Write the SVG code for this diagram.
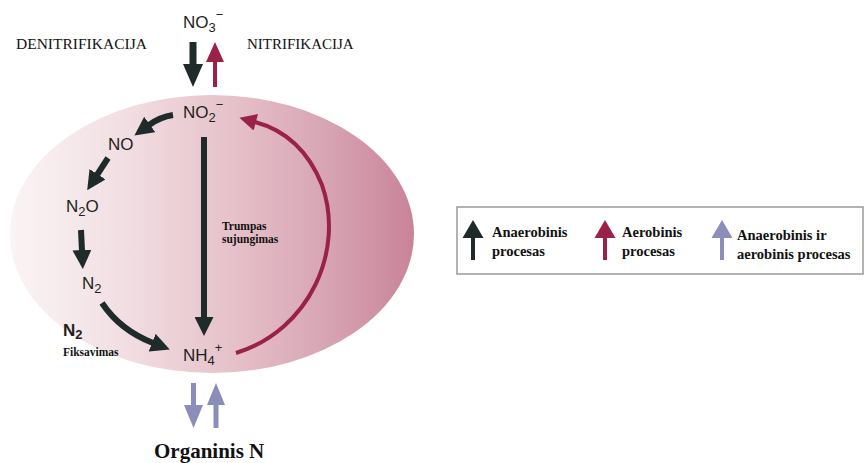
<svg xmlns="http://www.w3.org/2000/svg" width="865" height="463" viewBox="0 0 865 463">
<style>
.chem{font-family:"Liberation Sans",Arial,sans-serif;font-size:17px;fill:#231f20}
.sub{font-size:13px}
.lbl{font-family:"Liberation Serif","Times New Roman",serif;fill:#111}
.b{font-weight:bold}
.dk{fill:#1f2b2b}
.rd{fill:#9a2248}
.lt{fill:#8a8eb8}
.sdk{fill:none;stroke:#1f2b2b;stroke-width:6}
.srd{fill:none;stroke:#9a2248;stroke-width:4}
</style>
<defs>
<linearGradient id="g" gradientUnits="userSpaceOnUse" x1="10" y1="0" x2="414" y2="0">
<stop offset="0" stop-color="#faf4f5"/>
<stop offset="0.3" stop-color="#f1dde1"/>
<stop offset="0.55" stop-color="#e6c1ca"/>
<stop offset="0.8" stop-color="#d6a2b1"/>
<stop offset="1" stop-color="#c98399"/>
</linearGradient>
<marker id="hdk" markerUnits="userSpaceOnUse" viewBox="0 0 20 20" refX="1" refY="10" markerWidth="19" markerHeight="19" orient="auto">
<path d="M0,0 L20,10 L0,20 Z" fill="#1f2b2b"/>
</marker>
<marker id="hrd" markerUnits="userSpaceOnUse" viewBox="0 0 20 20" refX="1" refY="10" markerWidth="19" markerHeight="17" orient="auto">
<path d="M0,0 L20,10 L0,20 Z" fill="#9a2248"/>
</marker>
</defs>
<rect width="865" height="463" fill="#fff"/>
<ellipse id="cell" cx="212" cy="234" rx="202" ry="139" fill="url(#g)"/>

<g id="connectors">
<polygon class="dk" points="189.5,42 196.5,42 196.5,64 203,64 193,87 183,64 189.5,64"/>
<polygon class="rd" points="213,87 217,87 217,62 224,62 215,42 206,62 213,62"/>
<path class="sdk" d="M173,115 Q160,117 149,125" marker-end="url(#hdk)"/>
<path class="sdk" d="M108,158 L97,175" marker-end="url(#hdk)"/>
<path class="sdk" d="M81,230 L82,251" marker-end="url(#hdk)"/>
<path class="sdk" d="M102,303 Q120,330 153,343" marker-end="url(#hdk)"/>
<path class="sdk" d="M204,137 L204,318" stroke-width="5" marker-end="url(#hdk)"/>
<path class="srd" d="M236,353 C310,330 345,250 322,185 C308,150 285,130 255,122" marker-end="url(#hrd)"/>
<polygon class="lt" points="191,383 196,383 196,405 203,405 193.5,428 184,405 191,405"/>
<polygon class="lt" points="213.5,428 218.5,428 218.5,405 225,405 216,383 207,405 213.5,405"/>
</g>

<g id="no3"><text class="chem" x="183" y="28">NO<tspan class="sub" dy="4">3</tspan><tspan class="sub" dy="-13">−</tspan></text></g>
<g id="denit"><text class="lbl" x="16" y="49" font-size="15.5">DENITRIFIKACIJA</text></g>
<g id="nit"><text class="lbl" x="247" y="49" font-size="15">NITRIFIKACIJA</text></g>
<g id="no2"><text class="chem" x="183" y="118">NO<tspan class="sub" dy="4">2</tspan><tspan class="sub" dy="-13">−</tspan></text></g>
<g id="no"><text class="chem" x="108" y="150">NO</text></g>
<g id="n2o"><text class="chem" x="66" y="212">N<tspan class="sub" dy="4">2</tspan><tspan dy="-4">O</tspan></text></g>
<g id="n2"><text class="chem" x="82" y="289">N<tspan class="sub" dy="4">2</tspan></text></g>
<g id="fix"><text class="chem b" x="63" y="336" font-size="16">N<tspan class="sub" dy="3">2</tspan></text>
<text class="lbl b" x="63" y="356" font-size="11.5">Fiksavimas</text></g>
<g id="nh4"><text class="chem" x="183" y="361">NH<tspan class="sub" dy="4">4</tspan><tspan class="sub" dy="-13">+</tspan></text></g>
<g id="short"><text class="lbl b" x="222" y="230" font-size="11.5">Trumpas</text>
<text class="lbl b" x="222" y="243" font-size="11.5">sujungimas</text></g>
<g id="org"><text class="lbl b" x="154" y="458" font-size="21">Organinis N</text></g>

<g id="legend">
<rect x="457" y="207" width="406" height="67" fill="#fff" stroke="#9a9a9a" stroke-width="1.5"/>
<polygon class="dk" points="471,260 475,260 475,238 483.5,238 473,220 462.5,238 471,238"/>
<polygon class="rd" points="603,260 607,260 607,238 615.5,238 605,220 594.5,238 603,238"/>
<polygon class="lt" points="720,260 724,260 724,238 732.5,238 722,220 711.5,238 720,238"/>
<text class="lbl b" font-size="14.5"><tspan x="492" y="237">Anaerobinis</tspan><tspan x="492" y="256">procesas</tspan></text>
<text class="lbl b" font-size="14.5"><tspan x="622" y="237">Aerobinis</tspan><tspan x="622" y="256">procesas</tspan></text>
<text class="lbl b" font-size="14.5"><tspan x="737" y="240">Anaerobinis ir</tspan><tspan x="737" y="259">aerobinis procesas</tspan></text>
</g>
</svg>
